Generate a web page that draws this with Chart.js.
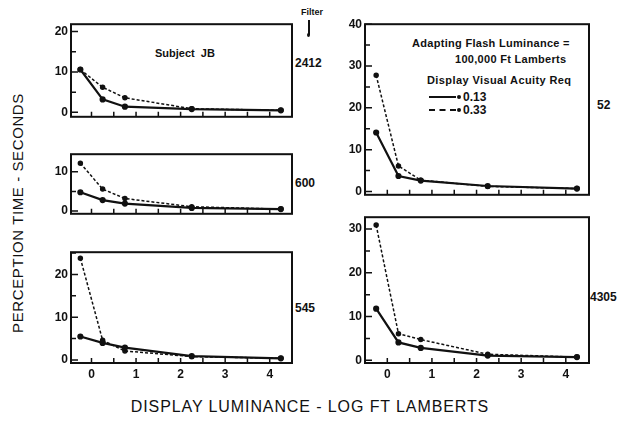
<!DOCTYPE html>
<html lang="en">
<head>
<meta charset="UTF-8">
<title>Perception time vs display luminance</title>
<script src="https://cdn.jsdelivr.net/npm/chart.js@4.4.1/dist/chart.umd.min.js"></script>
<style>
  body { margin: 0; background: #fff; width: 618px; height: 426px; position: relative; overflow: hidden;
         font-family: "Liberation Sans", Arial, sans-serif; color: #111; }
  canvas { position: absolute; }
  .txt { position: absolute; white-space: nowrap; font-weight: bold; font-size: 11px; line-height: 1; }
  .filt { position: absolute; font-weight: bold; font-size: 12px; line-height: 1; }
  .leg-line { position: absolute; width: 27px; border-top: 2px solid #111; }
  .leg-dot { position: absolute; width: 4px; height: 4px; border-radius: 50%; background: #111; }
</style>
</head>
<body>

<div style="position:absolute; left:17px; top:213px; transform:translate(-50%,-50%) rotate(-90deg); font-size:15px; letter-spacing:0.6px; white-space:nowrap;">PERCEPTION TIME - SECONDS</div>
<div style="position:absolute; left:310px; top:407px; transform:translate(-50%,-50%); font-size:16px; letter-spacing:0.9px; white-space:nowrap;">DISPLAY LUMINANCE - LOG FT LAMBERTS</div>

<div class="txt" style="left:301px; top:8px; font-size:9px;">Filter</div>
<div style="position:absolute; left:308px; top:20px; width:1.5px; height:15px; background:#111;"></div>
<div class="leg-dot" style="left:307px; top:33px; width:3px; height:4px;"></div>

<div class="txt" style="left:155px; top:48px; font-size:11px;">Subject&nbsp; JB</div>

<div class="filt" style="left:295px; top:57px;">2412</div>
<div class="filt" style="left:295px; top:177px;">600</div>
<div class="filt" style="left:295px; top:302px;">545</div>
<div class="filt" style="left:597px; top:99px;">52</div>
<div class="filt" style="left:590px; top:291px;">4305</div>

<div class="txt" style="left:412px; top:38px; letter-spacing:0.3px;">Adapting Flash Luminance =</div>
<div class="txt" style="left:455px; top:54px; letter-spacing:0.3px;">100,000 Ft Lamberts</div>
<div class="txt" style="left:427px; top:75px; letter-spacing:0.4px;">Display Visual Acuity Req</div>
<div class="leg-line" style="left:429px; top:96px;"></div>
<div class="leg-dot" style="left:457px; top:95px;"></div>
<div class="txt" style="left:463px; top:91px; font-size:12px;">0.13</div>
<div class="leg-line" style="left:429px; top:109px; border-top:2px dashed #111;"></div>
<div class="leg-dot" style="left:457px; top:108px;"></div>
<div class="txt" style="left:463px; top:104px; font-size:12px;">0.33</div>

<canvas id="c2412"></canvas>
<canvas id="c600"></canvas>
<canvas id="c545"></canvas>
<canvas id="c52"></canvas>
<canvas id="c4305"></canvas>

<script>
// log ft lamberts, same for every panel
const luminance = [-0.25, 0.25, 0.75, 2.25, 4.25];

// perception time (s) per filter, acuity 0.13 (solid) and 0.33 (dashed)
const f2412_013 = [10.6, 3.2, 1.4, 0.8, 0.5];
const f2412_033 = [10.6, 6.2, 3.6, 0.9, 0.5];
const f600_013 = [4.8, 2.8, 1.9, 0.8, 0.5];
const f600_033 = [12.2, 5.6, 3.2, 1.1, 0.5];
const f545_013 = [5.5, 4.0, 2.9, 0.9, 0.4];
const f545_033 = [23.8, 4.6, 2.1, 0.8, 0.4];
const f52_013 = [14.1, 3.7, 2.6, 1.3, 0.7];
const f52_033 = [27.8, 6.1, 2.7, 1.2, 0.7];
const f4305_013 = [11.8, 4.1, 2.85, 1.1, 0.75];
const f4305_033 = [30.9, 6.1, 4.75, 1.4, 0.75];

const xTickLabels = [0, 1, 2, 3, 4];

const YW = 30, PAD_TOP = 8, PAD_RIGHT = 10;
const FONT = { family: 'Liberation Sans', size: 12, weight: 'bold' };

// frame + inward tick marks, drawn from the scales
const frameTicks = {
  id: 'frameTicks',
  afterDraw(chart) {
    const ctx = chart.ctx;
    const a = chart.chartArea;
    const xs = chart.scales.x, ys = chart.scales.y;
    ctx.save();
    ctx.strokeStyle = '#111';
    ctx.lineWidth = 2;
    ctx.strokeRect(a.left, a.top, a.right - a.left, a.bottom - a.top);
    ctx.lineWidth = 1.5;
    ctx.beginPath();
    for (let v = 0; v <= ys.max; v += 5) {
      const py = ys.getPixelForValue(v);
      const len = v % 10 === 0 ? 7 : 5;
      ctx.moveTo(a.left, py);
      ctx.lineTo(a.left + len, py);
    }
    for (let v = 0; v <= 4; v += 0.5) {
      const px = xs.getPixelForValue(v);
      ctx.moveTo(px, a.bottom);
      ctx.lineTo(px, a.bottom - 5);
    }
    ctx.stroke();
    ctx.restore();
  }
};

function pts(ys) {
  return luminance.map((x, i) => ({ x: x, y: ys[i] }));
}

function makePanel(id, box, yMin, yMax, xMin, xMax, solid, dashed, showX) {
  const [l, t, r, b] = box;
  const xh = showX ? 22 : 4;
  const cv = document.getElementById(id);
  cv.width = (r - l) + YW + PAD_RIGHT;
  cv.height = (b - t) + PAD_TOP + xh;
  cv.style.left = (l - YW) + 'px';
  cv.style.top = (t - PAD_TOP) + 'px';

  new Chart(cv, {
    type: 'line',
    data: {
      datasets: [
        { data: pts(solid), borderColor: '#111', backgroundColor: '#111', borderWidth: 2.2,
          pointRadius: 2, pointHoverRadius: 2, tension: 0, clip: false },
        { data: pts(dashed), borderColor: '#111', backgroundColor: '#111', borderWidth: 1.5,
          borderDash: [3, 2], pointRadius: 2, pointHoverRadius: 2, tension: 0, clip: false }
      ]
    },
    options: {
      responsive: false,
      animation: false,
      events: [],
      layout: { padding: { top: PAD_TOP, right: PAD_RIGHT, left: 0, bottom: 0 } },
      plugins: { legend: { display: false }, tooltip: { enabled: false } },
      scales: {
        x: {
          type: 'linear', min: xMin, max: xMax,
          grid: { display: false, drawTicks: false },
          border: { display: false },
          ticks: {
            display: showX, stepSize: 1, includeBounds: false, padding: 4,
            color: '#111', font: FONT, maxRotation: 0,
            callback: v => xTickLabels.includes(v) ? String(v) : ''
          },
          afterFit(s) { s.height = xh; }
        },
        y: {
          min: yMin, max: yMax,
          grid: { display: false, drawTicks: false },
          border: { display: false },
          ticks: { stepSize: 10, includeBounds: false, padding: 3, color: '#111', font: FONT },
          afterFit(s) { s.width = YW; }
        }
      }
    },
    plugins: [frameTicks]
  });
}

makePanel('c2412', [71, 22, 292, 123], -1.1, 21.8, -0.46, 4.5, f2412_013, f2412_033, false);
makePanel('c600', [71, 152, 292, 220], -0.7, 14.5, -0.46, 4.5, f600_013, f600_033, false);
makePanel('c545', [71, 250, 292, 363], -0.7, 25.2, -0.46, 4.5, f545_013, f545_033, true);
makePanel('c52', [365, 22, 589, 201], -0.8, 40, -0.5, 4.52, f52_013, f52_033, false);
makePanel('c4305', [365, 215, 589, 363], -0.6, 32.7, -0.5, 4.52, f4305_013, f4305_033, true);
</script>
</body>
</html>
